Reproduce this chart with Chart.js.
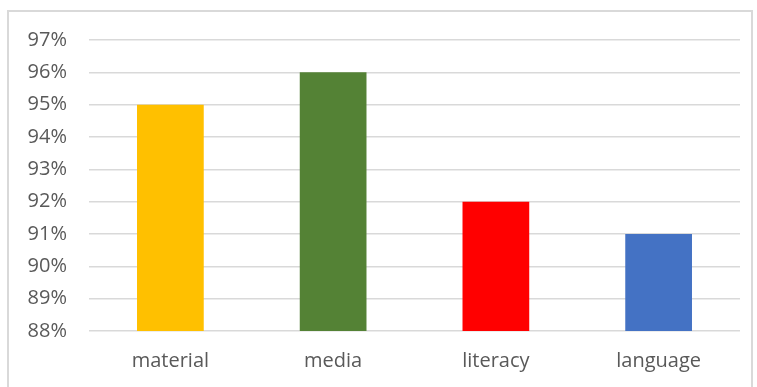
<!DOCTYPE html>
<html>
<head>
<meta charset="utf-8">
<script src="https://cdn.jsdelivr.net/npm/chart.js@4"></script>
<style>
  html, body { margin: 0; padding: 0; background: #fff; }
  #frame { position: absolute; left: 7px; top: 10px; width: 742px; height: 390px; border: 2px solid #d9d9d9; }
  #wrap { position: absolute; left: 0; top: 0; width: 757px; height: 387px; }
</style>
</head>
<body>
<div id="frame"></div>
<div id="wrap"><canvas id="myChart"></canvas></div>
<script>
const categories = ['material', 'media', 'literacy', 'language'];
const values = [95, 96, 92, 91];
const barColors = ['#FFC000', '#548235', '#FF0000', '#4472C4'];

let ctx = document.getElementById('myChart').getContext('2d');
let myChart = new Chart(ctx, {
    type: 'bar',
    data: {
        labels: categories,
        datasets: [{
            data: values,
            backgroundColor: barColors,
            borderWidth: 0,
            barPercentage: 0.41,
            categoryPercentage: 1
        }]
    },
    options: {
        responsive: true,
        maintainAspectRatio: false,
        animation: false,
        layout: { padding: { top: 40, right: 17, left: 0, bottom: 0 } },
        plugins: {
            legend: { display: false },
            tooltip: { enabled: false }
        },
        scales: {
            x: {
                grid: { display: false },
                border: { display: false },
                ticks: {
                    color: '#595959',
                    font: { family: 'Open Sans', size: 20 },
                    padding: 10
                },
                afterFit: function (scale) { scale.height = 56; }
            },
            y: {
                min: 88,
                max: 97,
                grid: { color: '#d9d9d9', lineWidth: 1.5, drawTicks: false },
                border: { display: false },
                ticks: {
                    stepSize: 1,
                    color: '#595959',
                    font: { family: 'Open Sans', size: 20 },
                    padding: 22,
                    callback: function (v) { return v + '%'; }
                },
                afterFit: function (scale) { scale.width = 89; }
            }
        }
    }
});
</script>
</body>
</html>
